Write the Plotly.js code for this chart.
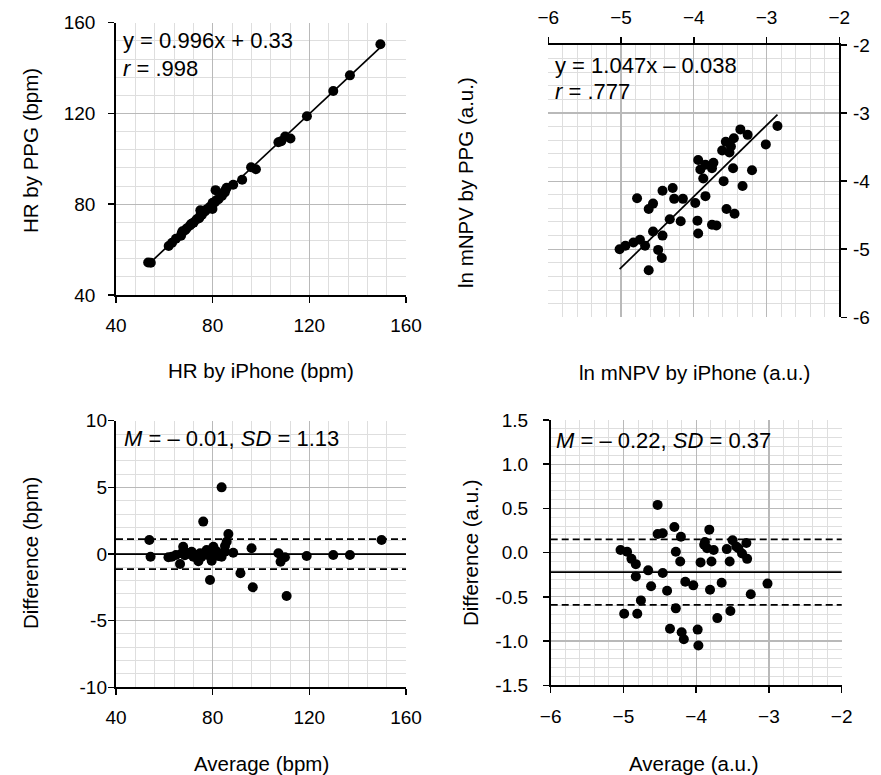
<!DOCTYPE html>
<html><head><meta charset="utf-8">
<script src="https://cdn.plot.ly/plotly-3.0.1.min.js"></script>
<style>html,body{margin:0;padding:0;background:#fff}</style>
</head><body><div id="chart" style="width:881px;height:775px"></div>
<script>
// Panel A: HR scatter
const hrIphone = [53.3,54.4,61.8,63.2,64.8,66.9,67.5,67.2,68.6,69.2,70.6,71.2,72.1,73.4,74.4,74.8,74.9,75.5,76.8,77.4,78.3,78.9,79.9,79.9,80.0,81.0,81.6,82.4,81.2,83.8,85.0,85.8,85.3,84.8,88.5,92.2,95.9,97.9,107.2,108.4,110.0,112.2,119.0,129.9,136.8,149.4];
const hrPPG    = [54.3,54.2,61.6,63.0,64.8,66.1,68.1,67.2,68.5,69.3,70.6,71.4,71.9,73.4,73.8,74.8,77.3,75.3,76.8,77.7,78.1,78.9,79.4,77.9,80.6,81.0,81.8,82.2,86.2,83.6,85.2,87.3,86.3,85.4,88.6,90.8,96.3,95.4,107.3,107.8,109.8,109.0,118.8,129.9,136.8,150.5];
// Panel B: ln mNPV scatter
const npvIphone = [-2.85,-3.01,-3.36,-3.26,-3.45,-3.56,-3.49,-3.51,-3.61,-3.94,-3.84,-3.73,-3.75,-3.91,-3.46,-3.87,-3.20,-3.59,-3.33,-3.84,-3.98,-3.55,-3.44,-3.75,-3.69,-3.95,-3.94,-4.29,-4.43,-4.27,-4.15,-4.78,-4.56,-4.62,-4.33,-4.18,-4.56,-4.43,-5.02,-4.94,-4.83,-4.74,-4.67,-4.49,-4.44,-4.62];
const npvPPG    = [-3.19,-3.46,-3.24,-3.32,-3.37,-3.42,-3.49,-3.58,-3.55,-3.69,-3.76,-3.73,-3.81,-3.83,-3.81,-3.96,-3.84,-4.00,-4.07,-4.22,-4.32,-4.41,-4.48,-4.64,-4.65,-4.58,-4.77,-4.10,-4.14,-4.26,-4.26,-4.25,-4.33,-4.41,-4.56,-4.59,-4.74,-4.80,-5.00,-4.95,-4.90,-4.86,-4.95,-5.01,-5.13,-5.31];
// Panel C: HR Bland-Altman
const hrAvg  = [53.8,54.3,61.7,63.1,64.8,66.5,67.8,67.2,68.5,69.2,70.6,71.3,72.0,73.4,74.1,74.8,76.1,75.4,76.8,77.5,78.2,78.9,79.6,78.9,80.3,81.0,81.7,82.3,83.7,83.7,85.1,86.5,85.8,85.1,88.5,91.5,96.1,96.6,107.2,108.1,109.9,110.6,118.9,129.9,136.8,149.9];
const hrDiff = [1.05,-0.2,-0.25,-0.2,-0.08,-0.75,0.55,0.05,-0.1,0.1,0.0,0.17,-0.2,-0.08,-0.55,0.05,2.43,-0.2,0.05,0.3,-0.1,0.05,-0.5,-1.95,0.55,0.1,0.18,-0.15,5.0,-0.2,0.18,1.5,0.92,0.6,0.1,-1.45,0.43,-2.5,0.05,-0.58,-0.25,-3.15,-0.15,-0.08,-0.08,1.05];
// Panel D: ln mNPV Bland-Altman
const npvAvg  = [-4.53,-4.30,-4.53,-4.46,-4.21,-3.82,-4.28,-4.22,-5.04,-4.95,-4.89,-4.83,-4.83,-4.66,-4.62,-4.46,-4.40,-4.15,-4.04,-4.76,-4.99,-4.81,-4.28,-4.36,-4.20,-4.17,-3.98,-3.97,-3.81,-3.65,-3.71,-3.53,-3.25,-3.02,-3.94,-3.79,-3.89,-3.85,-3.76,-3.58,-3.50,-3.54,-3.42,-3.31,-3.37,-3.30,-3.45,-3.88];
const npvDiff = [0.54,0.29,0.21,0.22,0.18,0.26,0.01,-0.10,0.03,0.01,-0.07,-0.13,-0.27,-0.20,-0.38,-0.23,-0.43,-0.33,-0.37,-0.54,-0.69,-0.69,-0.63,-0.86,-0.90,-0.98,-0.87,-1.05,-0.42,-0.34,-0.74,-0.66,-0.47,-0.35,-0.11,-0.10,0.09,0.05,0.03,0.04,0.14,-0.10,0.05,0.11,-0.01,-0.07,0.07,0.12];
// Fit and agreement statistics
const fitSlope = [0.996, 1.047];
const fitIntercept = [0.33, -0.038];
const baMean = [-0.01, -0.22];
const baSD = [1.13, 0.37];
const hyTicks3 = [-10,-5,0,5,10];
const hyText3 = ['-10','-5','0','5','10'];
const yTicks2 = [-6,-5,-4,-3,-2];
const yText2 = ['-6','-5','-4','-3','-2'];
const yTicks4 = [-1.5,-1,-0.5,0,0.5,1,1.5];
const yText4 = ['-1.5','-1.0','-0.5','0.0','0.5','1.0','1.5'];

const W = 881, H = 775;
const X = px => px / W;
const Y = py => 1 - py / H;
const FONT = 'Liberation Sans, Arial, sans-serif';

function fitLine(xs, k, xa, ya) {
  const lo = Math.min(...xs), hi = Math.max(...xs);
  return {x:[lo,hi], y:[fitSlope[k]*lo+fitIntercept[k], fitSlope[k]*hi+fitIntercept[k]],
    mode:'lines', line:{color:'black', width:1.7}, xaxis:xa, yaxis:ya, hoverinfo:'skip'};
}
const mk = {color:'black', size:10};
const data = [
  fitLine(hrIphone, 0, 'x', 'y'),
  {x:hrIphone, y:hrPPG, mode:'markers', marker:mk, xaxis:'x', yaxis:'y'},
  fitLine(npvIphone, 1, 'x2', 'y2'),
  {x:npvIphone, y:npvPPG, mode:'markers', marker:mk, xaxis:'x2', yaxis:'y2'},
  {x:hrAvg, y:hrDiff, mode:'markers', marker:mk, xaxis:'x3', yaxis:'y3'},
  {x:npvAvg, y:npvDiff, mode:'markers', marker:mk, xaxis:'x4', yaxis:'y4'},
  // empty trace that just carries the label-only overlay axis of panel C
  {x:[], y:[], mode:'markers', xaxis:'x3', yaxis:'y5', hoverinfo:'skip'}
];

const MAJ = '#b9b9b9', MIN = '#dedede';
function ax(extra) {
  return Object.assign({
    showline:true, linecolor:'black', linewidth:1.8, mirror:false,
    ticks:'outside', ticklen:6, tickwidth:1.5, tickcolor:'black',
    showgrid:true, gridcolor:MAJ, gridwidth:1.2, zeroline:false,
    tickfont:{family:FONT, size:19, color:'black'},
    fixedrange:true
  }, extra);
}
const y3dom = [Y(687.3), Y(420.7)];
const layout = {
  width:W, height:H, margin:{l:0,r:0,t:0,b:0},
  paper_bgcolor:'white', plot_bgcolor:'white', showlegend:false,
  font:{family:FONT, color:'black'},
  xaxis: ax({domain:[X(116),X(406)], anchor:'y', range:[40,160], tick0:40, dtick:40, ticklabelstandoff:6, minor:{dtick:8, showgrid:true, gridcolor:MIN, gridwidth:1}}),
  yaxis: ax({domain:[Y(295),Y(22.7)], anchor:'x', range:[40,160], tick0:40, dtick:40, ticklabelstandoff:9, minor:{dtick:8, showgrid:true, gridcolor:MIN, gridwidth:1}}),
  xaxis2: ax({domain:[X(548.3),X(839.3)], anchor:'y2', side:'top', range:[-6,-2], dtick:1, ticklabelstandoff:6, minor:{dtick:0.2, showgrid:true, gridcolor:MIN, gridwidth:1}}),
  yaxis2: ax({domain:[Y(317.3),Y(45)], anchor:'x2', side:'right', range:[-6,-2], tickmode:'array', tickvals:yTicks2, ticktext:yText2, ticklabelstandoff:2, minor:{dtick:0.2, showgrid:true, gridcolor:MIN, gridwidth:1}}),
  xaxis3: ax({domain:[X(116),X(406)], anchor:'y3', range:[40,160], tick0:40, dtick:40, ticklabelstandoff:6, minor:{dtick:8, showgrid:true, gridcolor:MIN, gridwidth:1}}),
  yaxis3: ax({domain:y3dom, anchor:'x3', range:[-10,10], tickmode:'array', tickvals:hyTicks3, ticktext:hyText3, showticklabels:false, minor:{dtick:1, showgrid:true, gridcolor:MIN, gridwidth:1}}),
  // label-only overlay so the labels sit close to the axis, as in the original
  yaxis5: {domain:y3dom, overlaying:'y3', anchor:'x3', side:'left', range:[-10,10], tickmode:'array', tickvals:hyTicks3, ticktext:hyText3,
           ticks:'', showline:false, showgrid:false, zeroline:false, ticklabelstandoff:8,
           tickfont:{family:FONT, size:19, color:'black'}, fixedrange:true},
  xaxis4: ax({domain:[X(550.7),X(841.7)], anchor:'y4', range:[-6,-2], dtick:1, ticklabelstandoff:7, minor:{dtick:0.2, showgrid:true, gridcolor:MIN, gridwidth:1}}),
  yaxis4: ax({domain:[Y(685.3),Y(420)], anchor:'x4', range:[-1.5,1.5], tickmode:'array', tickvals:yTicks4, ticktext:yText4, ticklabelstandoff:11, minor:{dtick:0.1, showgrid:true, gridcolor:MIN, gridwidth:1}}),
  shapes: [
    {type:'line', xref:'x3 domain', x0:0, x1:1, yref:'y3', y0:baMean[0], y1:baMean[0], line:{color:'black', width:1.7}},
    {type:'line', xref:'x3 domain', x0:0, x1:1, yref:'y3', y0:baMean[0]+baSD[0], y1:baMean[0]+baSD[0], line:{color:'black', width:1.7, dash:'7px,4px'}},
    {type:'line', xref:'x3 domain', x0:0, x1:1, yref:'y3', y0:baMean[0]-baSD[0], y1:baMean[0]-baSD[0], line:{color:'black', width:1.7, dash:'7px,4px'}},
    {type:'line', xref:'x4 domain', x0:0, x1:1, yref:'y4', y0:baMean[1], y1:baMean[1], line:{color:'black', width:1.7}},
    {type:'line', xref:'x4 domain', x0:0, x1:1, yref:'y4', y0:baMean[1]+baSD[1], y1:baMean[1]+baSD[1], line:{color:'black', width:1.7, dash:'7px,4px'}},
    {type:'line', xref:'x4 domain', x0:0, x1:1, yref:'y4', y0:baMean[1]-baSD[1], y1:baMean[1]-baSD[1], line:{color:'black', width:1.7, dash:'7px,4px'}}
  ],
  annotations: []
};
function txt(text, px, py, opt) {
  layout.annotations.push(Object.assign({text:text, xref:'paper', yref:'paper', x:X(px), y:Y(py),
    showarrow:false, xanchor:'left', yanchor:'middle', font:{family:FONT, size:22, color:'black'}}, opt||{}));
}
txt('y = 0.996x + 0.33', 121, 41);
txt('<i>r</i> = .998', 121, 69);
txt('y = 1.047x \u2013 0.038', 553, 65);
txt('<i>r</i> = .777', 553, 92);
txt('<i>M</i> = \u2013 0.01, <i>SD</i> = 1.13', 122, 438);
txt('<i>M</i> = \u2013 0.22, <i>SD</i> = 0.37', 554, 440);
const tOpt = {xanchor:'center', font:{family:FONT, size:20.5, color:'black'}};
txt('HR by PPG (bpm)', 30, 151, Object.assign({textangle:-90}, tOpt));
txt('HR by iPhone (bpm)', 261, 370, tOpt);
txt('ln mNPV by PPG (a.u.)', 466, 183, Object.assign({textangle:-90}, tOpt));
txt('ln mNPV by iPhone (a.u.)', 694, 372, tOpt);
txt('Difference (bpm)', 30, 553, Object.assign({textangle:-90}, tOpt));
txt('Average (bpm)', 261, 763, tOpt);
txt('Difference (a.u.)', 470, 553, Object.assign({textangle:-90}, tOpt));
txt('Average (a.u.)', 694, 763, tOpt);

Plotly.newPlot('chart', data, layout, {displayModeBar:false, staticPlot:true});
</script></body></html>
